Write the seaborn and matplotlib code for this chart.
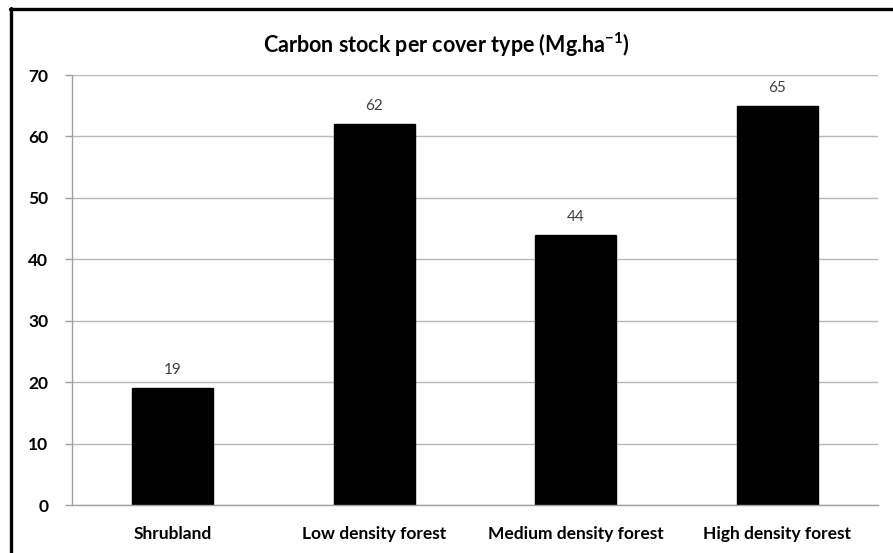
import matplotlib
matplotlib.use("Agg")
import matplotlib.pyplot as plt
import seaborn as sns
import pandas as pd
from matplotlib.lines import Line2D

categories = ["Shrubland", "Low density forest", "Medium density forest", "High density forest"]
values = [19, 62, 44, 65]
yticks = [0, 10, 20, 30, 40, 50, 60, 70]

sns.set_theme(style="white")
plt.rcParams['font.family'] = ['Lato', 'DejaVu Sans']
plt.rcParams['mathtext.fontset'] = 'custom'
plt.rcParams['mathtext.rm'] = 'Lato'
plt.rcParams['mathtext.bf'] = 'Lato:bold'

df = pd.DataFrame({"cat": categories, "val": values})

fig = plt.figure(figsize=(8.93, 5.53), dpi=100)
ax = fig.add_axes([72/893, 1-505/553, (878-72)/893, (505-75)/553])

sns.barplot(data=df, x="cat", y="val", color="black", width=0.4, ax=ax,
            saturation=1, edgecolor="black")

ax.set_xlim(-0.5, len(categories) - 0.5)
ax.set_ylim(0, 70)
ax.set_yticks(yticks)
ax.set_yticklabels([str(t) for t in yticks], fontweight="bold", fontsize=12.5, color="black")
ax.set_xticks(range(len(categories)))
ax.set_xticklabels(categories, fontweight="bold", fontsize=12.5, color="black")
ax.set_xticks([i - 0.5 for i in range(len(categories) + 1)], minor=True)
ax.tick_params(axis="x", which="major", length=0, pad=15)
ax.tick_params(axis="x", which="minor", length=5, color="#a0a0a0", width=1, direction="out")
ax.tick_params(axis="y", length=5, color="#a0a0a0", width=1, direction="out", pad=12, left=True)
ax.set_xlabel("")
ax.set_ylabel("")

ax.yaxis.grid(True, color="#b8b8b8", linewidth=1)
ax.set_axisbelow(True)
for s in ["top", "right"]:
    ax.spines[s].set_visible(False)
ax.spines["left"].set_color("#a0a0a0")
ax.spines["bottom"].set_color("#a0a0a0")
ax.spines["left"].set_linewidth(1)
ax.spines["bottom"].set_linewidth(1)

for c in ax.containers:
    ax.bar_label(c, labels=[str(v) for v in values], padding=8, fontsize=11, color="#404040")

fig.text(0.5, 1 - 45/553, r"Carbon stock per cover type (Mg.ha$^{\mathbf{-1}}$)",
         ha="center", va="center", fontsize=15.5, fontweight="bold", color="black")

# outer frame (top and left)
fig.add_artist(Line2D([10/893, 1.0], [1 - 8.5/553] * 2, transform=fig.transFigure,
                      color="black", linewidth=2.4))
fig.add_artist(Line2D([11/893] * 2, [0, 1 - 8/553], transform=fig.transFigure,
                      color="black", linewidth=2.4))

fig.savefig("out.png", dpi=100)
